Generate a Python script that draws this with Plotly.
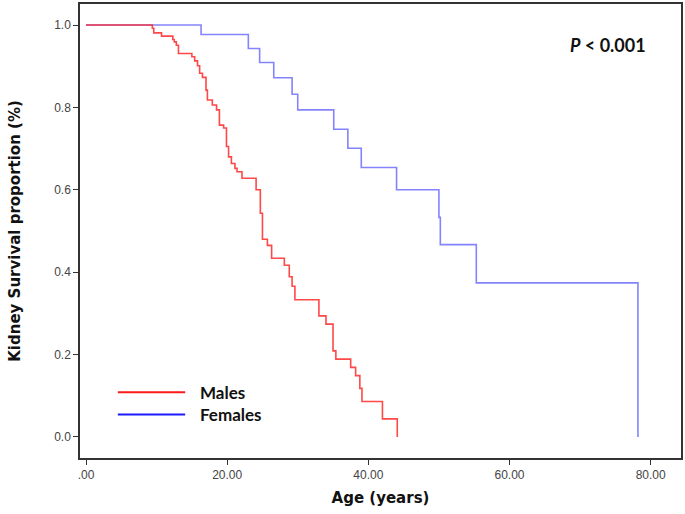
import plotly.graph_objects as go

# Kaplan-Meier step data (time in years, survival proportion after the event)
male_time = [0, 9.4, 9.6, 10.7, 12.3, 12.5, 12.8, 13.1, 15.0, 15.4, 15.8, 16.1, 16.5, 17.0, 17.2,
             17.9, 18.5, 18.9, 19.5, 19.9, 20.2, 20.6, 21.1, 21.4, 22.1, 24.1, 24.7, 25.0, 25.7,
             26.3, 28.1, 28.8, 29.2, 29.6, 33.0, 34.0, 35.0, 35.4, 37.5, 38.2, 38.8, 39.1, 42.0, 44.1]
male_surv = [1.0, 0.992, 0.981, 0.973, 0.965, 0.959, 0.951, 0.931, 0.923, 0.913, 0.901, 0.883, 0.873,
             0.842, 0.818, 0.806, 0.794, 0.757, 0.750, 0.705, 0.680, 0.664, 0.652, 0.644, 0.628, 0.600,
             0.543, 0.480, 0.465, 0.434, 0.417, 0.389, 0.366, 0.333, 0.294, 0.274, 0.209, 0.189, 0.169,
             0.149, 0.118, 0.086, 0.044, 0.0]

female_time = [0, 16.3, 23.0, 24.6, 26.6, 29.2, 30.0, 35.1, 37.1, 39.0, 44.0, 50.0, 50.2, 55.3, 78.2]
female_surv = [1.0, 0.977, 0.943, 0.909, 0.872, 0.832, 0.794, 0.747, 0.701, 0.654, 0.600, 0.533,
               0.467, 0.374, 0.0]

x_ticks = [0, 20, 40, 60, 80]
x_tick_labels = [".00", "20.00", "40.00", "60.00", "80.00"]
y_ticks = [0.0, 0.2, 0.4, 0.6, 0.8, 1.0]
y_tick_labels = ["0.0", "0.2", "0.4", "0.6", "0.8", "1.0"]

groups = ["Males", "Females"]
curve_colors = ["rgba(255,40,40,0.85)", "rgba(90,90,255,0.75)"]
legend_colors = ["#ff1a1a", "#1a1aff"]

fig = go.Figure()
fig.add_trace(go.Scatter(x=female_time, y=female_surv, mode="lines", line_shape="hv",
                         line=dict(color=curve_colors[1], width=1.6), name=groups[1], showlegend=False))
fig.add_trace(go.Scatter(x=male_time, y=male_surv, mode="lines", line_shape="hv",
                         line=dict(color=curve_colors[0], width=1.6), name=groups[0], showlegend=False))

# legend drawn as lines + text
leg_y = [0.145, 0.096]
for i, g in enumerate(groups):
    fig.add_shape(type="line", xref="paper", yref="paper", x0=0.063, x1=0.175, y0=leg_y[i], y1=leg_y[i],
                  line=dict(color=legend_colors[i], width=2))
    fig.add_annotation(xref="paper", yref="paper", x=0.197, y=leg_y[i], text="<b>%s</b>" % g,
                       showarrow=False, xanchor="left", yanchor="middle",
                       font=dict(family="Lato", size=17, color="#111"))

fig.add_annotation(xref="paper", yref="paper", x=0.945, y=0.91, text="<b><i>P</i> &lt; 0.001</b>",
                   showarrow=False, xanchor="right", yanchor="middle",
                   font=dict(family="Lato", size=18, color="#111"))

axis_common = dict(showgrid=False, zeroline=False, showline=True, linecolor="#333", linewidth=1.5,
                   mirror=True, ticks="outside", ticklen=5, tickwidth=1.2, tickcolor="#333",
                   automargin=False,
                   tickfont=dict(family="Liberation Sans", size=12, color="#444"))

fig.update_xaxes(range=[-0.85, 84.3], tickvals=x_ticks, ticktext=x_tick_labels,
                 title=dict(text="<b>Age (years)</b>", font=dict(family="DejaVu Sans", size=15, color="#111"),
                            standoff=11), **axis_common)
fig.update_yaxes(range=[-0.051, 1.051], tickvals=y_ticks, ticktext=y_tick_labels,
                 title=dict(text="<b>Kidney Survival proportion (%)</b>",
                            font=dict(family="DejaVu Sans", size=15, color="#111"), standoff=30),
                 **axis_common)

fig.update_layout(width=685, height=514, margin=dict(l=80, r=4, t=4, b=56),
                  plot_bgcolor="white", paper_bgcolor="white", showlegend=False)

fig.write_html("out.html", config={"displayModeBar": False, "responsive": False},
               post_script="document.body.style.margin='0px';document.body.style.overflow='hidden';"
                           "document.documentElement.style.overflow='hidden';")
